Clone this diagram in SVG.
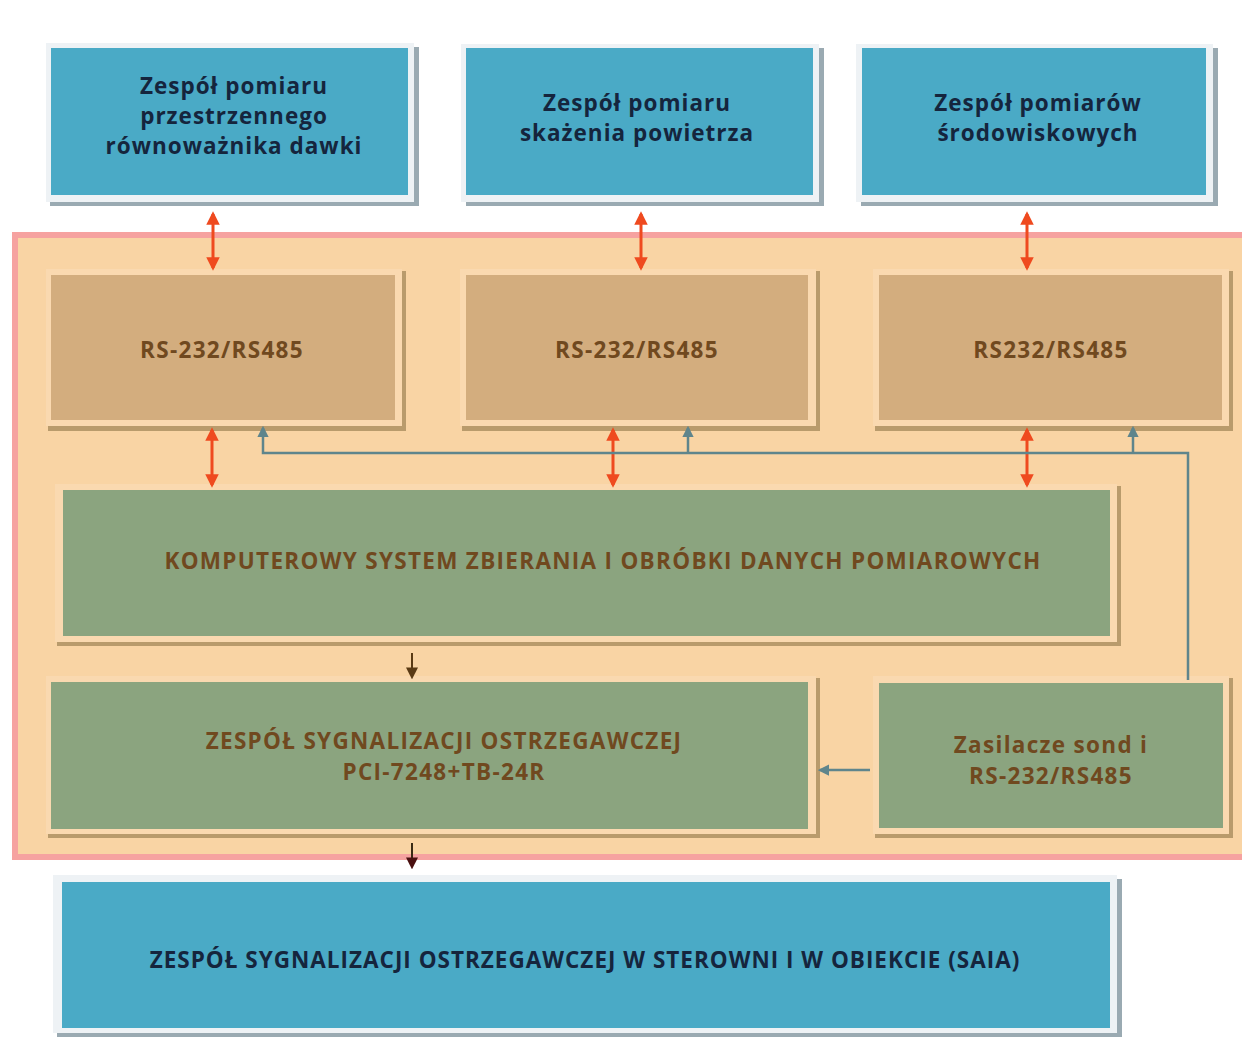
<svg xmlns="http://www.w3.org/2000/svg" width="1242" height="1037" viewBox="0 0 1242 1037">
<defs>
<style>
.bframe{fill:#eef2f5}
.bshadow{fill:#9aaab2}
.blue{fill:#4aaac6}
.tframe{fill:#fad9b0}
.tshadow{fill:#b99b6c}
.tan{fill:#d3ad7e}
.green{fill:#8ba47f}
.tb{font-family:"Open Sans","Noto Sans",sans-serif;font-weight:bold;font-size:22.5px;letter-spacing:1px;fill:#15253d;text-anchor:middle}
.tr{font-family:"Open Sans","Noto Sans",sans-serif;font-weight:bold;font-size:22.5px;letter-spacing:1.3px;fill:#70491f;text-anchor:middle}
.red{stroke:#ef4a1f;stroke-width:3;fill:none}
.gray{stroke:#5f858c;stroke-width:2.5;fill:none}
.brown{stroke:#5a3a14;stroke-width:2;fill:none}
</style>
<marker id="ar" viewBox="0 0 10 10" refX="8" refY="5" markerWidth="4.5" markerHeight="4.5" orient="auto-start-reverse"><path d="M0,0 L10,5 L0,10 z" fill="#ef4a1f"/></marker>
<marker id="ag" viewBox="0 0 10 10" refX="8" refY="5" markerWidth="4.5" markerHeight="4.5" orient="auto"><path d="M0,0 L10,5 L0,10 z" fill="#5f858c"/></marker>
<marker id="ab" viewBox="0 0 10 10" refX="8" refY="5" markerWidth="6" markerHeight="6" orient="auto"><path d="M0,0 L10,5 L0,10 z" fill="#5a3a14"/></marker>
<marker id="ad" viewBox="0 0 10 10" refX="8" refY="5" markerWidth="6" markerHeight="6" orient="auto"><path d="M0,0 L10,5 L0,10 z" fill="#4a1010"/></marker>
</defs>
<rect width="1242" height="1037" fill="#ffffff"/>

<g id="frame">
<rect x="15" y="235" width="1230" height="622" fill="#f9d4a4" stroke="#f6a2a0" stroke-width="6"/>
</g>

<g id="top1">
<rect class="bshadow" x="50" y="47" width="369" height="159"/>
<rect class="bframe" x="46" y="43" width="368" height="159"/>
<rect class="blue" x="51" y="48" width="357" height="147"/>
<text class="tb" x="234" y="94">Zespół pomiaru</text>
<text class="tb" x="234" y="124">przestrzennego</text>
<text class="tb" x="234" y="154">równoważnika dawki</text>
</g>
<g id="top2">
<rect class="bshadow" x="466" y="48" width="358" height="158"/>
<rect class="bframe" x="461" y="44" width="358" height="158"/>
<rect class="blue" x="466" y="48" width="347" height="147"/>
<text class="tb" x="637" y="111">Zespół pomiaru</text>
<text class="tb" x="637" y="141">skażenia powietrza</text>
</g>
<g id="top3">
<rect class="bshadow" x="861" y="48" width="357" height="158"/>
<rect class="bframe" x="856" y="44" width="357" height="158"/>
<rect class="blue" x="862" y="48" width="344" height="147"/>
<text class="tb" x="1038" y="111">Zespół pomiarów</text>
<text class="tb" x="1038" y="141">środowiskowych</text>
</g>

<g id="rs1">
<rect class="tshadow" x="48" y="271" width="358" height="160"/>
<rect class="tframe" x="46" y="269" width="356" height="157"/>
<rect class="tan" x="51" y="275" width="344" height="145"/>
<text class="tr" x="222" y="358">RS-232/RS485</text>
</g>
<g id="rs2">
<rect class="tshadow" x="462" y="271" width="358" height="160"/>
<rect class="tframe" x="460" y="269" width="356" height="157"/>
<rect class="tan" x="466" y="275" width="342" height="145"/>
<text class="tr" x="637" y="358">RS-232/RS485</text>
</g>
<g id="rs3">
<rect class="tshadow" x="875" y="271" width="358" height="160"/>
<rect class="tframe" x="873" y="269" width="356" height="157"/>
<rect class="tan" x="879" y="275" width="343" height="145"/>
<text class="tr" x="1051" y="358">RS232/RS485</text>
</g>

<g id="komputer">
<rect class="tshadow" x="57" y="486" width="1064" height="160"/>
<rect class="tframe" x="55" y="484" width="1062" height="158"/>
<rect class="green" x="63" y="490" width="1047" height="146"/>
<text class="tr" x="603" y="569">KOMPUTEROWY SYSTEM ZBIERANIA I OBRÓBKI DANYCH POMIAROWYCH</text>
</g>

<g id="sygnalizacja">
<rect class="tshadow" x="48" y="678" width="772" height="160"/>
<rect class="tframe" x="46" y="676" width="770" height="158"/>
<rect class="green" x="51" y="682" width="757" height="147"/>
<text class="tr" x="444" y="749">ZESPÓŁ SYGNALIZACJI OSTRZEGAWCZEJ</text>
<text class="tr" x="444" y="780">PCI-7248+TB-24R</text>
</g>

<g id="zasilacze">
<rect class="tshadow" x="875" y="678" width="358" height="160"/>
<rect class="tframe" x="873" y="676" width="356" height="158"/>
<rect class="green" x="879" y="683" width="344" height="145"/>
<text class="tr" x="1051" y="753">Zasilacze sond i</text>
<text class="tr" x="1051" y="784">RS-232/RS485</text>
</g>

<g id="saia">
<rect class="bshadow" x="57" y="879" width="1065" height="158"/>
<rect class="bframe" x="53" y="875" width="1064" height="158"/>
<rect class="blue" x="62" y="882" width="1048" height="146"/>
<text class="tb" x="585" y="968">ZESPÓŁ SYGNALIZACJI OSTRZEGAWCZEJ W STEROWNI I W OBIEKCIE (SAIA)</text>
</g>

<g id="connectors">
<line class="red" x1="213" y1="214" x2="213" y2="268" marker-start="url(#ar)" marker-end="url(#ar)"/>
<line class="red" x1="641" y1="214" x2="641" y2="268" marker-start="url(#ar)" marker-end="url(#ar)"/>
<line class="red" x1="1027" y1="214" x2="1027" y2="268" marker-start="url(#ar)" marker-end="url(#ar)"/>
<line class="red" x1="212" y1="430" x2="212" y2="485" marker-start="url(#ar)" marker-end="url(#ar)"/>
<line class="red" x1="613" y1="430" x2="613" y2="485" marker-start="url(#ar)" marker-end="url(#ar)"/>
<line class="red" x1="1027" y1="430" x2="1027" y2="485" marker-start="url(#ar)" marker-end="url(#ar)"/>
<polyline class="gray" points="1188,680 1188,453 263,453 263,428" marker-end="url(#ag)"/>
<line class="gray" x1="688" y1="453" x2="688" y2="428" marker-end="url(#ag)"/>
<line class="gray" x1="1133" y1="453" x2="1133" y2="428" marker-end="url(#ag)"/>
<line class="gray" x1="870" y1="770" x2="820" y2="770" marker-end="url(#ag)"/>
<line class="brown" x1="412" y1="653" x2="412" y2="677" marker-end="url(#ab)"/>
<line stroke="#3a2a14" stroke-width="2" x1="412" y1="843" x2="412" y2="867" marker-end="url(#ad)"/>
</g>
</svg>
